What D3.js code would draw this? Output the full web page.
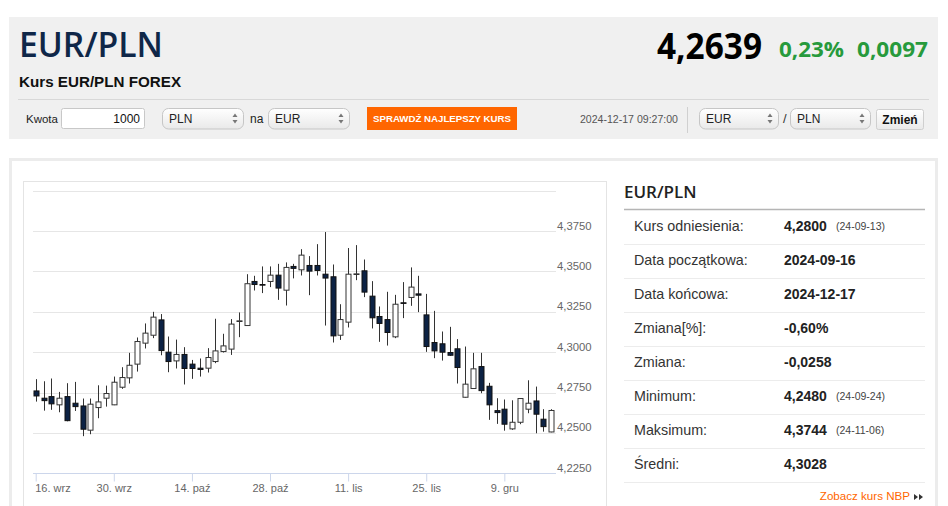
<!DOCTYPE html>
<html>
<head>
<meta charset="utf-8">
<script src="https://cdn.jsdelivr.net/npm/d3@7/dist/d3.min.js"></script>
<style>
  html, body { margin: 0; padding: 0; background: #fff; }
  svg { display: block; font-family: "Liberation Sans", Arial, sans-serif; }
</style>
</head>
<body>
<svg id="chart" width="948" height="506"></svg>
<script>
// ---------- DATA ----------
const dates = [
  "2024-09-16","2024-09-17","2024-09-18","2024-09-19","2024-09-20",
  "2024-09-23","2024-09-24","2024-09-25","2024-09-26","2024-09-27",
  "2024-09-30","2024-10-01","2024-10-02","2024-10-03","2024-10-04",
  "2024-10-07","2024-10-08","2024-10-09","2024-10-10","2024-10-11",
  "2024-10-14","2024-10-15","2024-10-16","2024-10-17","2024-10-18",
  "2024-10-21","2024-10-22","2024-10-23","2024-10-24","2024-10-25",
  "2024-10-28","2024-10-29","2024-10-30","2024-10-31","2024-11-01",
  "2024-11-04","2024-11-05","2024-11-06","2024-11-07","2024-11-08",
  "2024-11-11","2024-11-12","2024-11-13","2024-11-14","2024-11-15",
  "2024-11-18","2024-11-19","2024-11-20","2024-11-21","2024-11-22",
  "2024-11-25","2024-11-26","2024-11-27","2024-11-28","2024-11-29",
  "2024-12-02","2024-12-03","2024-12-04","2024-12-05","2024-12-06",
  "2024-12-09","2024-12-10","2024-12-11","2024-12-12","2024-12-13",
  "2024-12-16","2024-12-17"
];
const open = [4.2760,4.2715,4.2725,4.2674,4.2725,4.2684,4.2667,4.2517,4.2657,4.2715,
  4.2674,4.2783,4.2841,4.2926,4.3056,4.3105,4.3200,4.3000,4.2946,4.2986,
  4.2926,4.2901,4.2901,4.2942,4.3004,4.3019,4.3190,4.3165,4.3438,4.3419,
  4.3438,4.3477,4.3384,4.3531,4.3510,4.3537,4.3537,4.3483,4.3467,4.3105,
  4.3186,4.3481,4.3504,4.3347,4.3221,4.3202,4.3095,4.3306,4.3339,4.3361,
  4.3231,4.3060,4.3052,4.2998,4.3021,4.2721,4.2775,4.2911,4.2789,4.2638,
  4.2647,4.2525,4.2566,4.2647,4.2698,4.2585,4.2506];
const high = [4.2833,4.2820,4.2837,4.2754,4.2808,4.2816,4.2713,4.2713,4.2795,4.2793,
  4.2849,4.2907,4.2996,4.3091,4.3178,4.3250,4.3236,4.3097,4.3078,4.3031,
  4.2952,4.2961,4.3025,4.3207,4.3114,4.3205,4.3246,4.3483,4.3473,4.3531,
  4.3531,4.3547,4.3556,4.3547,4.3638,4.3595,4.3669,4.3744,4.3543,4.3297,
  4.3645,4.3663,4.3574,4.3440,4.3283,4.3374,4.3355,4.3434,4.3525,4.3473,
  4.3361,4.3256,4.3128,4.3157,4.3081,4.3035,4.2996,4.2996,4.2810,4.2715,
  4.2707,4.2702,4.2715,4.2826,4.2787,4.2647,4.2647];
const low = [4.2694,4.2638,4.2643,4.2628,4.2572,4.2636,4.2480,4.2492,4.2591,4.2663,
  4.2672,4.2773,4.2806,4.2880,4.3023,4.3087,4.2981,4.2876,4.2899,4.2800,
  4.2835,4.2849,4.2874,4.2932,4.2998,4.2983,4.3093,4.3163,4.3382,4.3366,
  4.3403,4.3324,4.3289,4.3457,4.3475,4.3353,4.3475,4.3165,4.3060,4.3076,
  4.3153,4.3446,4.3341,4.3147,4.3064,4.3041,4.3087,4.3211,4.3287,4.3248,
  4.3002,4.2963,4.2948,4.2977,4.2806,4.2719,4.2773,4.2746,4.2581,4.2556,
  4.2514,4.2519,4.2554,4.2622,4.2498,4.2508,4.2504];
const close = [4.2729,4.2700,4.2680,4.2715,4.2576,4.2663,4.2523,4.2678,4.2692,4.2744,
  4.2814,4.2843,4.2919,4.3066,4.3118,4.3217,4.3010,4.2942,4.2986,4.2899,
  4.2899,4.2893,4.2967,4.3008,4.3039,4.3174,4.3194,4.3424,4.3419,4.3415,
  4.3477,4.3397,4.3525,4.3519,4.3601,4.3502,4.3506,4.3459,4.3101,4.3202,
  4.3483,4.3485,4.3372,4.3213,4.3178,4.3122,4.3297,4.3302,4.3403,4.3353,
  4.3035,4.3008,4.3000,4.2981,4.2905,4.2802,4.2897,4.2762,4.2674,4.2626,
  4.2554,4.2566,4.2713,4.2684,4.2616,4.2539,4.2639];

const xTickDates  = ["2024-09-16","2024-09-30","2024-10-14","2024-10-28","2024-11-11","2024-11-25","2024-12-09"];
const xTickLabels = ["16. wrz","30. wrz","14. paź","28. paź","11. lis","25. lis","9. gru"];
const yTicks = [4.225, 4.25, 4.275, 4.30, 4.325, 4.35, 4.375, 4.40];
const yDomain = [4.225, 4.40];

const statLabels = ["Kurs odniesienia:","Data początkowa:","Data końcowa:","Zmiana[%]:","Zmiana:","Minimum:","Maksimum:","Średni:"];
const statValues = ["4,2800","2024-09-16","2024-12-17","-0,60%","-0,0258","4,2480","4,3744","4,3028"];
const statNotes  = ["(24-09-13)","","","","","(24-09-24)","(24-11-06)",""];

// ---------- DRAW ----------
const svg = d3.select("#chart");
const defs = svg.append("defs");
const grad = defs.append("linearGradient").attr("id","selGrad").attr("x1",0).attr("y1",0).attr("x2",0).attr("y2",1);
grad.append("stop").attr("offset","0%").attr("stop-color","#ffffff");
grad.append("stop").attr("offset","100%").attr("stop-color","#e9e9e9");

// header panel
svg.append("rect").attr("x",9).attr("y",17).attr("width",929).attr("height",122).attr("fill","#f0f0f0");
svg.append("text").attr("x",19).attr("y",57).text("EUR/PLN")
  .attr("font-family","'Open Sans', sans-serif").attr("font-weight",600).attr("font-size",34).attr("fill","#0f2748")
  .attr("textLength",144).attr("lengthAdjust","spacingAndGlyphs");
svg.append("text").attr("x",19).attr("y",87).text("Kurs EUR/PLN FOREX")
  .attr("font-weight","bold").attr("font-size",15.2).attr("fill","#111");

svg.append("text").attr("x",762).attr("y",59).attr("text-anchor","end").text("4,2639")
  .attr("font-family","'Open Sans', sans-serif").attr("font-weight",700).attr("font-size",35).attr("fill","#000")
  .attr("textLength",105).attr("lengthAdjust","spacingAndGlyphs");
svg.append("text").attr("x",779).attr("y",57).text("0,23%")
  .attr("font-family","'Open Sans', sans-serif").attr("font-weight",700).attr("font-size",22).attr("fill","#279a3c")
  .attr("textLength",65).attr("lengthAdjust","spacingAndGlyphs");
svg.append("text").attr("x",857).attr("y",57).text("0,0097")
  .attr("font-family","'Open Sans', sans-serif").attr("font-weight",700).attr("font-size",22).attr("fill","#279a3c")
  .attr("textLength",71).attr("lengthAdjust","spacingAndGlyphs");

svg.append("line").attr("x1",18).attr("x2",929).attr("y1",99.5).attr("y2",99.5).attr("stroke","#d8d8d8");

// controls
svg.append("text").attr("x",26).attr("y",122.5).text("Kwota").attr("font-size",11.5).attr("fill","#222");
svg.append("rect").attr("x",61.5).attr("y",108.5).attr("width",83).attr("height",20).attr("rx",2)
  .attr("fill","#fff").attr("stroke","#c8c8c8");
svg.append("text").attr("x",140).attr("y",123).attr("text-anchor","end").text("1000").attr("font-size",12).attr("fill","#111");

function selectBox(x, w, label) {
  const g = svg.append("g");
  g.append("rect").attr("x",x+0.5).attr("y",108.5).attr("width",w).attr("height",20.5).attr("rx",6)
    .attr("fill","url(#selGrad)").attr("stroke","#c6c6c6");
  g.append("text").attr("x",x+7).attr("y",122.5).text(label).attr("font-size",12).attr("fill","#222");
  const ax = x + w - 8;
  g.append("path").attr("d",`M${ax-2.5},117 L${ax+2.5},117 L${ax},113.5 Z`).attr("fill","#777");
  g.append("path").attr("d",`M${ax-2.5},120 L${ax+2.5},120 L${ax},123.5 Z`).attr("fill","#777");
}
selectBox(162, 81, "PLN");
svg.append("text").attr("x",250).attr("y",122.5).text("na").attr("font-size",12).attr("fill","#222");
selectBox(268, 81, "EUR");

svg.append("rect").attr("x",367).attr("y",107).attr("width",150).attr("height",23).attr("fill","#ff6600");
svg.append("text").attr("x",442).attr("y",122).attr("text-anchor","middle").text("SPRAWDŹ NAJLEPSZY KURS")
  .attr("font-weight","bold").attr("font-size",9.5).attr("fill","#fff")
  .attr("textLength",138).attr("lengthAdjust","spacingAndGlyphs");

svg.append("text").attr("x",580).attr("y",123).text("2024-12-17 09:27:00").attr("font-size",10.8).attr("fill","#555")
  .attr("textLength",98).attr("lengthAdjust","spacingAndGlyphs");
svg.append("line").attr("x1",687.5).attr("x2",687.5).attr("y1",107).attr("y2",133).attr("stroke","#d0d0d0");
selectBox(699, 79, "EUR");
svg.append("text").attr("x",783).attr("y",123).text("/").attr("font-size",13).attr("fill","#333");
selectBox(790, 80, "PLN");
svg.append("rect").attr("x",876.5).attr("y",109.5).attr("width",47).attr("height",20).attr("rx",2)
  .attr("fill","url(#selGrad)").attr("stroke","#cfcfcf");
svg.append("text").attr("x",900).attr("y",123.5).attr("text-anchor","middle").text("Zmień")
  .attr("font-weight","bold").attr("font-size",12).attr("fill","#111");

// main panel
svg.append("rect").attr("x",10.5).attr("y",159.5).attr("width",926).attr("height",400)
  .attr("fill","#fff").attr("stroke","#ececec").attr("stroke-width",3);
svg.append("rect").attr("x",23.5).attr("y",181.5).attr("width",583).attr("height",400)
  .attr("fill","#fff").attr("stroke","#e4e4e4");

// scales
const x = d3.scalePoint().domain(dates).range([35.7, 551.2]);
const y = d3.scaleLinear().domain(yDomain).range([473.3, 190.7]);
const plotLeft = 33, plotRight = 556;
const fmt = v => d3.format(".4f")(v).replace(".", ",");

const chart = svg.append("g");
// grid
chart.append("g").selectAll("line").data(yTicks.slice(1)).join("line")
  .attr("x1",plotLeft).attr("x2",plotRight)
  .attr("y1",d => Math.round(y(d))+0.5).attr("y2",d => Math.round(y(d))+0.5)
  .attr("stroke","#e6e6e6");

// y axis labels (right)
const yAxis = chart.append("g").attr("transform",`translate(${plotRight},0)`)
  .call(d3.axisRight(y).tickValues(yTicks.slice(0,-1)).tickSize(0).tickPadding(1).tickFormat(fmt));
yAxis.select(".domain").remove();
yAxis.selectAll("text").attr("dy",-2).attr("fill","#666").attr("font-size",11.3)
  .attr("font-family","'Liberation Sans', Arial, sans-serif");

// x axis
const xAxisG = chart.append("g").attr("transform",`translate(0,${Math.round(y(yDomain[0]))+0.5})`)
  .call(d3.axisBottom(x).tickValues(xTickDates).tickSize(8).tickSizeOuter(0).tickPadding(3)
    .tickFormat((d,i) => xTickLabels[i]));
xAxisG.select(".domain").remove();
xAxisG.insert("line",":first-child").attr("x1",plotLeft).attr("x2",plotRight).attr("stroke","#ccd6eb");
xAxisG.selectAll(".tick line").attr("stroke","#ccd6eb");
xAxisG.selectAll(".tick text").attr("fill","#666").attr("font-size",11)
  .attr("font-family","'Liberation Sans', Arial, sans-serif");
xAxisG.selectAll(".tick").filter((d,i) => i === 0).select("text").attr("text-anchor","start").attr("x",-1);

// candles
const candles = dates.map((d,i) => ({d, o:open[i], h:high[i], l:low[i], c:close[i]}));
const cg = chart.append("g").selectAll("g").data(candles).join("g")
  .attr("transform", d => `translate(${Math.round(x(d.d))+0.5},0)`);
cg.append("line").attr("y1",d => y(d.h)).attr("y2",d => y(d.l))
  .attr("stroke","#333").attr("stroke-width",1);
cg.append("rect")
  .attr("x",-2.5).attr("width",5)
  .attr("y",d => y(Math.max(d.o,d.c)))
  .attr("height",d => Math.max(0.6, Math.abs(y(d.o)-y(d.c))))
  .attr("fill",d => d.c >= d.o ? "#ffffff" : "#0c2244")
  .attr("stroke",d => d.c >= d.o ? "#333" : "#111").attr("stroke-width",1);

// stats table
const tx = 624;
svg.append("text").attr("x",tx).attr("y",198).text("EUR/PLN")
  .attr("font-family","'Open Sans', sans-serif").attr("font-weight",600).attr("font-size",17).attr("fill","#222");
svg.append("line").attr("x1",tx).attr("x2",925).attr("y1",209.5).attr("y2",209.5).attr("stroke","#b5b5b5").attr("stroke-width",1.5);
const rowH = 34, row0 = 230.5;
const rows = svg.append("g").selectAll("g").data(statLabels).join("g")
  .attr("transform",(d,i) => `translate(0,${row0 + i*rowH})`);
rows.append("text").attr("x",634).attr("y",0).text(d => d).attr("font-size",14.3).attr("fill","#333");
rows.append("text").attr("x",784).attr("y",0).text((d,i) => statValues[i])
  .attr("font-weight","bold").attr("font-size",14).attr("fill","#222");
rows.append("text").attr("x",836).attr("y",-0.5).text((d,i) => statNotes[i])
  .attr("font-size",10.5).attr("fill","#444");
rows.append("line").attr("x1",tx).attr("x2",925).attr("y1",14).attr("y2",14).attr("stroke","#ececec");

svg.append("text").attr("x",910).attr("y",500).attr("text-anchor","end").text("Zobacz kurs NBP")
  .attr("font-size",11.6).attr("fill","#ff6600");
svg.append("path").attr("d","M914,494 L918,497 L914,500 Z M919,494 L923,497 L919,500 Z").attr("fill","#333");
</script>
</body>
</html>
